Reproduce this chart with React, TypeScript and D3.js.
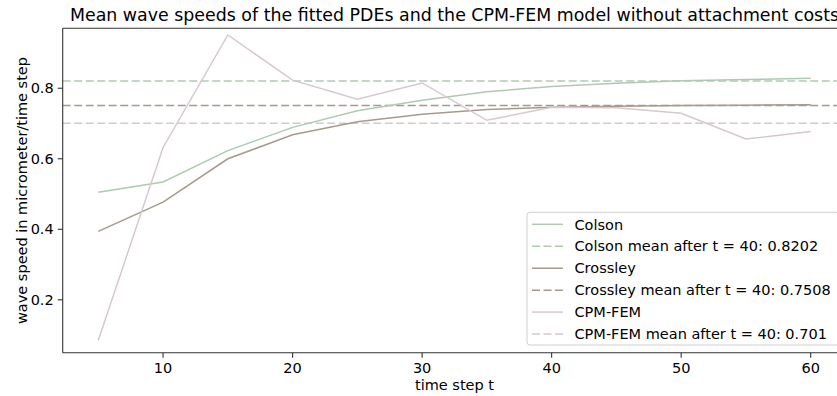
import React from "react";
import * as d3 from "d3";

const timeSteps = [5, 10, 15, 20, 25, 30, 35, 40, 45, 50, 55, 60];
const colsonValues = [0.505, 0.534, 0.623, 0.689, 0.736, 0.766, 0.79, 0.805, 0.814, 0.821, 0.825, 0.828];
const crossleyValues = [0.394, 0.477, 0.6, 0.668, 0.705, 0.726, 0.74, 0.746, 0.749, 0.751, 0.752, 0.753];
const cpmValues = [0.085, 0.632, 0.951, 0.823, 0.769, 0.815, 0.709, 0.746, 0.745, 0.729, 0.656, 0.677];
const meanValues = [0.8202, 0.7508, 0.701];
const seriesNames = ["Colson", "Crossley", "CPM-FEM"];
const seriesColors = ["#aecab1", "#a69a8c", "#d6c7d1"];
const xTicks = [10, 20, 30, 40, 50, 60];
const yTicks = [0.2, 0.4, 0.6, 0.8];
const titleText = "Mean wave speeds of the fitted PDEs and the CPM-FEM model without attachment costs";

const W = 837;
const H = 396;
const L = 62.7, R = 846.3, T = 28.3, B = 352.7;
const FONT = "DejaVu Sans, sans-serif";
const FS = 14.5;

export default function App() {
  const x = d3.scaleLinear().domain([2.25, 62.75]).range([L, R]);
  const y = d3.scaleLinear().domain([0.05, 0.97]).range([B, T]);
  const allSeries = [colsonValues, crossleyValues, cpmValues];
  const line = d3
    .line<number>()
    .x((_, i) => x(timeSteps[i]))
    .y((d) => y(d));

  const legendItems: { label: string; color: string; dashed: boolean }[] = [];
  seriesNames.forEach((n, i) => {
    legendItems.push({ label: n, color: seriesColors[i], dashed: false });
    legendItems.push({
      label: `${n} mean after t = 40: ${meanValues[i]}`,
      color: seriesColors[i],
      dashed: true,
    });
  });

  const legX = 527, legY = 212.3, legW = 312, legH = 132.7;
  const rowH = 21.95;

  return (
    <svg
      width={W}
      height={H}
      style={{ position: "absolute", left: 0, top: 0, background: "#fff" }}
      fontFamily={FONT}
    >
      <defs>
        <clipPath id="plotclip">
          <rect x={L} y={T} width={R - L} height={B - T} />
        </clipPath>
      </defs>
      <rect x={0} y={0} width={W} height={H} fill="#fff" />
      <g clipPath="url(#plotclip)">
        {meanValues.map((m, i) => (
          <line
            key={"m" + i}
            x1={L}
            x2={R}
            y1={y(m)}
            y2={y(m)}
            stroke={seriesColors[i]}
            strokeWidth={1.5}
            strokeDasharray="8,3.5"
          />
        ))}
        {allSeries.map((s, i) => (
          <path key={"s" + i} d={line(s) || ""} fill="none" stroke={seriesColors[i]} strokeWidth={1.5} />
        ))}
      </g>
      <g stroke="#333" strokeWidth={1.1} fill="none">
        <line x1={L} x2={L} y1={T} y2={B} />
        <line x1={L} x2={R} y1={B} y2={B} />
        <line x1={L} x2={R} y1={T} y2={T} />
        <line x1={R} x2={R} y1={T} y2={B} />
      </g>
      {xTicks.map((t) => (
        <g key={"xt" + t}>
          <line x1={x(t)} x2={x(t)} y1={B} y2={B + 5} stroke="#333" strokeWidth={1.1} />
          <text x={x(t)} y={B + 20.6} fontSize={FS} textAnchor="middle" fill="#000">
            {t}
          </text>
        </g>
      ))}
      {yTicks.map((t) => (
        <g key={"yt" + t}>
          <line x1={L - 5} x2={L} y1={y(t)} y2={y(t)} stroke="#333" strokeWidth={1.1} />
          <text x={L - 9} y={y(t) + 5.2} fontSize={FS} textAnchor="end" fill="#000">
            {t.toFixed(1)}
          </text>
        </g>
      ))}
      <text x={(L + R) / 2} y={390} fontSize={FS} textAnchor="middle" fill="#000">
        time step t
      </text>
      <text
        transform={`translate(26.5,${(T + B) / 2}) rotate(-90)`}
        fontSize={FS}
        textAnchor="middle"
        fill="#000"
      >
        wave speed in micrometer/time step
      </text>
      <text x={(L + R) / 2} y={20.7} fontSize={17.4} textAnchor="middle" fill="#000">
        {titleText}
      </text>
      <rect
        x={legX}
        y={legY}
        width={legW}
        height={legH}
        rx={3}
        fill="#fff"
        fillOpacity={0.8}
        stroke="#d0d0d0"
        strokeWidth={1}
      />
      {legendItems.map((it, i) => {
        const cy = legY + 12 + i * rowH;
        return (
          <g key={"lg" + i}>
            <line
              x1={532}
              x2={563}
              y1={cy}
              y2={cy}
              stroke={it.color}
              strokeWidth={1.5}
              strokeDasharray={it.dashed ? "8,3.5" : undefined}
            />
            <text x={574.5} y={cy + 5.2} fontSize={FS} fill="#000">
              {it.label}
            </text>
          </g>
        );
      })}
    </svg>
  );
}
